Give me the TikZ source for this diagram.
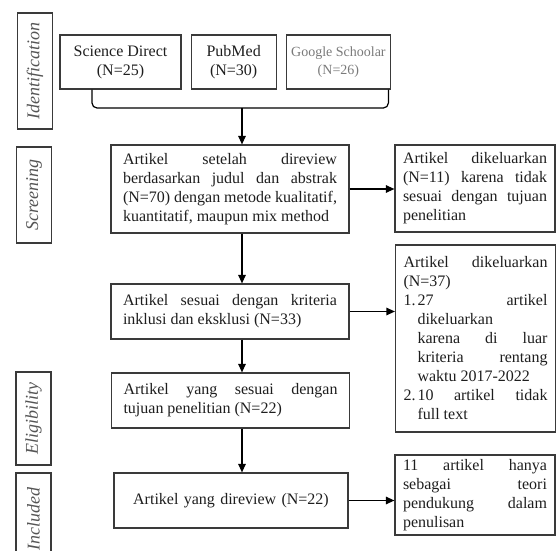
\documentclass[tikz,border=0pt]{standalone}
\usepackage{fontspec}
\setmainfont{Liberation Serif}
\usepackage{tikz}
\usetikzlibrary{arrows.meta,positioning}
\definecolor{BoxBorder}{HTML}{3A3A3A}
\definecolor{BoxText}{HTML}{1E1E1E}
\definecolor{SoftText}{HTML}{7A7A7A}
\definecolor{PhaseText}{HTML}{555555}
\definecolor{FlowArrow}{HTML}{000000}
\setlength{\parindent}{0pt}
\hyphenpenalty=10000
\exhyphenpenalty=10000

\begin{document}
\begin{tikzpicture}[x=1pt,y=-1pt,
  nsrc/.style={draw=BoxBorder,line width=1.2pt,minimum height=54pt,
    align=center,inner sep=2pt,text=BoxText,
    font=\fontsize{16}{19}\selectfont},
  nmain/.style={draw=BoxBorder,line width=1.2pt,text width=214pt,
    inner xsep=12pt,inner ysep=4pt,align=justify,text=BoxText,
    font=\fontsize{16}{19}\selectfont},
  nexc/.style={draw=BoxBorder,line width=1.2pt,text width=144pt,
    inner xsep=8pt,inner ysep=3pt,align=justify,text=BoxText,
    font=\fontsize{16}{19}\selectfont},
  nphase/.style={draw=BoxBorder,line width=1.2pt,rotate=90,
    minimum height=35pt,inner sep=1pt,text=PhaseText,
    font=\fontsize{18}{20}\selectfont\itshape},
  arr/.style={-{Triangle[length=8.5pt,width=7.5pt]},draw=FlowArrow,line width=1.2pt},
  brk/.style={draw=FlowArrow,line width=1.2pt,rounded corners=5pt}
]
\useasboundingbox (0,0) rectangle (558,551);
% Phase labels on the left
\node[nphase,minimum width=116pt] (pid) at (35,71) {Identification};
\node[nphase,minimum width=96pt] (pscr) at (34,195) {Screening};
\node[nphase,minimum width=93pt] (pel) at (33.5,418.5) {Eligibility};
\begin{scope}
  \clip (0,0) rectangle (558,551);
  \node[nphase,minimum width=92pt] (pinc) at (33.5,519) {Included};
\end{scope}
% Sources
\node[nsrc,minimum width=121pt] (sd) at (120.5,62) {Science Direct\\(N=25)};
\node[nsrc,minimum width=85pt,right=9pt of sd] (pm) {PubMed\\(N=30)};
\node[nsrc,minimum width=104pt,right=9pt of pm,text=SoftText,
      font=\fontsize{14}{18}\selectfont] (gg) {Google Schoolar\\(N=26)};
\coordinate (jn) at (242,108);
% Main flow
\node[nmain,minimum height=88pt] (scr) at (230,189)
  {Artikel setelah direview\linebreak berdasarkan judul dan abstrak\linebreak
   (N=70) dengan metode kualitatif,\linebreak kuantitatif, maupun mix method};
\node[nmain,minimum height=55pt] (incl) at (230,311.5)
  {Artikel sesuai dengan kriteria\linebreak inklusi dan eksklusi (N=33)};
\node[nmain,minimum height=55pt] (elig) at (230.5,400.5)
  {Artikel yang sesuai dengan\linebreak tujuan penelitian (N=22)};
\node[nmain,text width=210pt,minimum height=55pt,align=center] (rev) at (231,500.5)
  {Artikel yang direview (N=22)};
% Excluded articles
\node[nexc,minimum height=87pt] (exc1) at (475,188.5)
  {Artikel dikeluarkan\linebreak (N=11) karena tidak\linebreak
   sesuai dengan tujuan\linebreak penelitian};
\node[nexc,minimum height=187pt] (exc2) at (475.5,338.5)
  {Artikel dikeluarkan\linebreak (N=37)\par
   \hangindent=14pt\hangafter=1\makebox[14pt][l]{1.}27 artikel\linebreak
   dikeluarkan\newline karena di luar\linebreak kriteria rentang\linebreak
   waktu 2017-2022\par
   \hangindent=14pt\hangafter=1\makebox[14pt][l]{2.}10 artikel tidak\linebreak
   full text\par};
\node[nexc,minimum height=80pt] (exc3) at (475,495)
  {11 artikel hanya\linebreak sebagai teori\linebreak
   pendukung dalam\linebreak penulisan};
\draw[brk] ([xshift=-28.5pt]sd.south) |- (jn) -| ([xshift=50pt]gg.south);
\draw[arr] (jn) -- (jn |- scr.north);
\draw[arr] (scr.south -| jn) -- (incl.north -| jn);
\draw[arr] (incl.south -| jn) -- (elig.north -| jn);
\draw[arr] (elig.south -| jn) -- (rev.north -| jn);
\draw[arr] (scr.east) -- (scr.east -| exc1.west);
\draw[arr] (incl.east) -- (incl.east -| exc2.west);
\draw[arr] (rev.east) -- (rev.east -| exc3.west);
\end{tikzpicture}
\end{document}
